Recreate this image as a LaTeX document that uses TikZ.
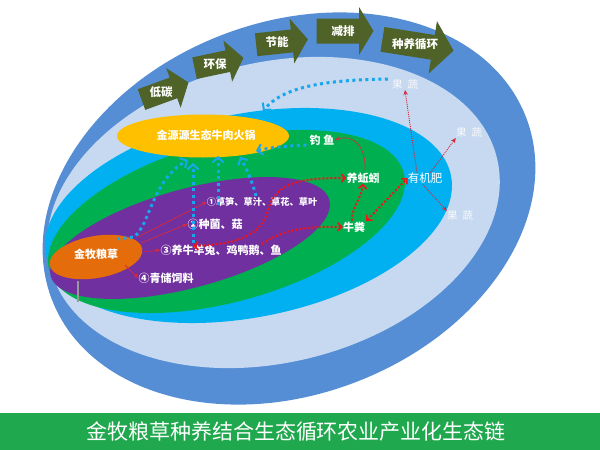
\documentclass[tikz,border=0pt]{standalone}
\usepackage{fontspec}
\setmainfont{Noto Sans CJK SC}
\usetikzlibrary{arrows.meta}
\definecolor{dkblue}{HTML}{558ED5}
\definecolor{ltblue}{HTML}{C6D9F1}
\definecolor{cyanb}{HTML}{00B0F0}
\definecolor{greenb}{HTML}{00B050}
\definecolor{purpleb}{HTML}{7030A0}
\definecolor{orangeb}{HTML}{E46C0A}
\definecolor{yellowb}{HTML}{FFC000}
\definecolor{oliveb}{HTML}{4F6228}
\definecolor{barg}{HTML}{1FA84D}
\definecolor{dotblue}{HTML}{18A6EC}
\definecolor{redd}{HTML}{F01414}
\definecolor{redt}{HTML}{D8283A}
\tikzset{
  lbl/.style={text=white, font=\bfseries\fontsize{11}{12}\selectfont, inner sep=0pt},
  lblsmall/.style={text=white, font=\bfseries\fontsize{9.2}{11}\selectfont, inner sep=0pt},
  guoshu/.style={text=white!95!gray, font=\fontsize{10.5}{12}\selectfont, inner sep=0pt},
  arrtext/.style={text=white, font=\bfseries\fontsize{11.5}{13}\selectfont, inner sep=0pt},
  blockarr/.style={fill=oliveb},
  bdot/.style={dotblue, line width=3pt, dash pattern=on 3pt off 3.5pt,
    -{Straight Barb[length=5pt,width=11pt,line width=2pt]}},
  rdot/.style={redd, line width=2pt, dash pattern=on 2pt off 2pt},
  rthin/.style={redt, line width=0.7pt, -{Stealth[length=5pt,width=4pt]}},
  rfine/.style={redt, line width=0.9pt, dash pattern=on 1pt off 1pt, -{Stealth[length=5pt,width=4.5pt]}},
}
\newcommand{\rtip}{Straight Barb[length=4pt,width=8pt,line width=1.6pt]}
\begin{document}
\begin{tikzpicture}[x=1pt,y=-1pt]
\useasboundingbox (0,0) rectangle (600,450);
\fill[white] (0,0) rectangle (600,450);
% nested discs
\fill[dkblue, rotate around={21:(289,208.5)}] (289,208.5) ellipse [x radius=254pt, y radius=186pt];
\fill[ltblue, rotate around={13.7:(273.5,212.5)}] (273.5,212.5) ellipse [x radius=230pt, y radius=150pt];
\fill[cyanb, rotate around={11.1:(248.5,215.5)}] (248.5,215.5) ellipse [x radius=206.4pt, y radius=101.8pt];
\fill[greenb, rotate around={15.4:(226.5,221.5)}] (226.5,221.5) ellipse [x radius=183.8pt, y radius=80.3pt];
\fill[purpleb, rotate around={15.3:(190,238)}] (190,238) ellipse [x radius=144.5pt, y radius=49.3pt];
% yellow and orange
\fill[yellowb] (203,136) ellipse [x radius=86pt, y radius=21.5pt];
\fill[orangeb, rotate around={10:(96,257)}] (96,257) ellipse [x radius=47pt, y radius=21pt];
\draw[gray!80, line width=1.5pt] (78,281) -- (78,302);
\node[lbl] (huoguo) at (206,135) {金源源生态牛肉火锅};
\node[lbl] (liangcao) at (96,254) {金牧粮草};
% top block arrows
\begin{scope}[shift={(165,91)}, rotate=20]
\fill[blockarr] (-25,-11) -- (9,-11) -- (9,-21) -- (25,0) -- (9,21) -- (9,11) -- (-25,11) -- cycle;
\node[arrtext] (a1) at (-4,0) {低碳};
\end{scope}
\begin{scope}[shift={(219,63)}, rotate=12]
\fill[blockarr] (-25,-11) -- (9,-11) -- (9,-21) -- (25,0) -- (9,21) -- (9,11) -- (-25,11) -- cycle;
\node[arrtext] (a2) at (-4,0) {环保};
\end{scope}
\begin{scope}[shift={(282,42)}, rotate=6]
\fill[blockarr] (-26,-11.5) -- (10,-11.5) -- (10,-22.5) -- (26,0) -- (10,22.5) -- (10,11.5) -- (-26,11.5) -- cycle;
\node[arrtext] (a3) at (-5,0) {节能};
\end{scope}
\begin{scope}[shift={(345,31)}, rotate=0]
\fill[blockarr] (-28.5,-12.5) -- (14,-12.5) -- (14,-24) -- (28.5,0) -- (14,24) -- (14,12.5) -- (-28.5,12.5) -- cycle;
\node[arrtext] (a4) at (-2,0) {减排};
\end{scope}
\begin{scope}[shift={(418,45)}, rotate=-9]
\fill[blockarr] (-36,-12.5) -- (15,-12.5) -- (15,-26.5) -- (36,0) -- (15,26.5) -- (15,12.5) -- (-36,12.5) -- cycle;
\node[arrtext] (a5) at (-3,0) {种养循环};
\end{scope}
% labels
\node[lblsmall] (t1) at (262,202) {①草笋、草汁、草花、草叶};
\node[lbl] (t2) at (215,224) {②种菌、菇};
\node[lbl] (t3) at (221,250) {③养牛羊兔、鸡鸭鹅、鱼};
\node[lbl] (t4) at (166,278) {④青储饲料};
\node[lbl] (diaoyu) at (322,140) {钓\hspace{3pt}鱼};
\node[lbl] (qiuyin) at (363,178) {养蚯蚓};
\node[lbl] (niufen) at (354,227) {牛粪};
\node[lbl, font=\fontsize{11.5}{13}\selectfont] (feiliao) at (425,178) {有机肥};
\node[guoshu] (gs1) at (405,85) {果\hspace{5pt}蔬};
\node[guoshu] (gs2) at (469,133) {果\hspace{5pt}蔬};
\node[guoshu] (gs3) at (460,216) {果\hspace{5pt}蔬};
% coordinates
\coordinate (o1) at (138,237);
\coordinate (o2) at (141,243);
\coordinate (o3) at (143,252);
\coordinate (o4) at (125,265);
\coordinate (y1) at (263,111);
\coordinate (y2) at (256,151);
\coordinate (y3) at (188,160);
\coordinate (y4) at (193,163);
\coordinate (y5) at (218,156);
\coordinate (y6) at (240,157);
% red thin arrows from grass
\draw[rthin] (o1) -- (t1.west);
\draw[rthin] (o2) -- (t2.west);
\draw[rthin] (o3) -- (t3.west);
\draw[rthin] (o4) -- (t4.west);
% blue dotted arrows
\draw[bdot] (gs1.west) ++(-4,-6) .. controls (320,80) and (282,88) .. (y1);
\draw[bdot] (diaoyu.west) ++(-3,5) .. controls (288,146) and (272,147) .. (y2);
\draw[bdot] (117,239) -- (134,237) .. controls (150,225) and (152,180) .. (y3);
\draw[bdot] (193,243) -- (y4);
\draw[bdot] (218,205) -- (y5);
\draw[bdot] (256,196) .. controls (252,180) and (246,168) .. (y6);
% red dotted arrows
\coordinate (r1) at (193,246);
\coordinate (r2) at (262,244);
\draw[rdot, {\rtip}-{\rtip}] (r1) .. controls (245,244) and (262,232) .. (268,210)
   .. controls (276,182) and (300,178) .. (qiuyin.west);
\draw[rdot, -{\rtip}] (r2) .. controls (282,230) and (305,226) .. (niufen.west);
\draw[rdot, -{\rtip}] (niufen.north) ++(-2,-1) .. controls (352,205) and (362,198) .. (qiuyin.south);
\draw[rdot, {\rtip}-{\rtip}] (niufen.east) ++(1,-6) -- (feiliao.west);
% red thin and fine arrows
\draw[rthin] (qiuyin.north) ++(2,-3) .. controls (366,145) and (352,134) .. (diaoyu.east);
\draw[rfine] (feiliao.north) ++(-8,0) -- (gs1.south);
\draw[rfine] (feiliao.north east) ++(-12,0) -- (gs2.south west);
\draw[rfine] (feiliao.south) ++(-2,1) -- (gs3.north west);
% bottom bar
\fill[barg] (0,413) rectangle (600,450);
\node[text=white, font=\fontsize{21}{23}\selectfont, inner sep=0pt] (title) at (296,432) {金牧粮草种养结合生态循环农业产业化生态链};
\end{tikzpicture}
\end{document}
